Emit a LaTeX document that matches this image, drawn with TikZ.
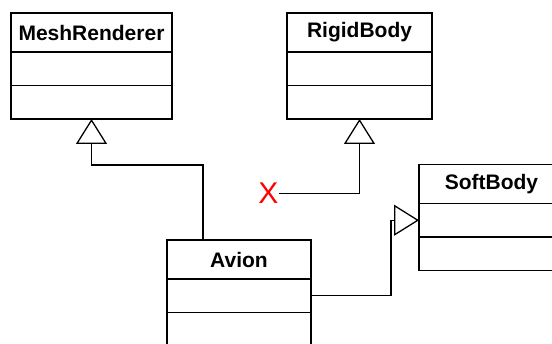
\documentclass[tikz,border=0pt]{standalone}
\usepackage{fontspec}
\setmainfont{Liberation Sans}
\usetikzlibrary{positioning,arrows.meta}

\begin{document}
\begin{tikzpicture}[x=1pt,y=1pt,
        box/.style={draw,line width=1.8pt,outer sep=0pt,inner sep=0pt,minimum height=39pt,font=\fontsize{21}{25}\selectfont\bfseries},
        part/.style={draw,line width=1.8pt,outer sep=0pt,minimum height=33.5pt},
        gen/.style={line width=1.3pt,-{Triangle[open,length=25pt,width=31pt,line width=1.3pt]}}]
    \useasboundingbox (0,0) rectangle (552,343);
    \foreach \c/\t/\x/\y/\w in {mesh/MeshRenderer/91.5/310.5/161, rigid/RigidBody/359.5/310.5/145, soft/SoftBody/491.5/159/145, avion/Avion/239/83.5/144} {
        \node[box,minimum width=\w pt] (\c) at (\x,\y) {\t};
        \node[part,minimum width=\w pt,below=0pt of \c] (\c1) {};
        \node[part,minimum width=\w pt,below=0pt of \c1] (\c2) {};
    }
    \node[red,font=\fontsize{30}{30}\selectfont,inner sep=0pt] (cut) at (268.5,149.5) {X};
    \draw[gen] ([xshift=-36pt]avion.north) -- ++(0,75) -| (mesh2.south);
    \draw[gen] (cut.east) -| (rigid2.south);
    \draw[gen] (avion1.east) -- ++(80,0) |- (soft1.west);
\end{tikzpicture}
\end{document}
